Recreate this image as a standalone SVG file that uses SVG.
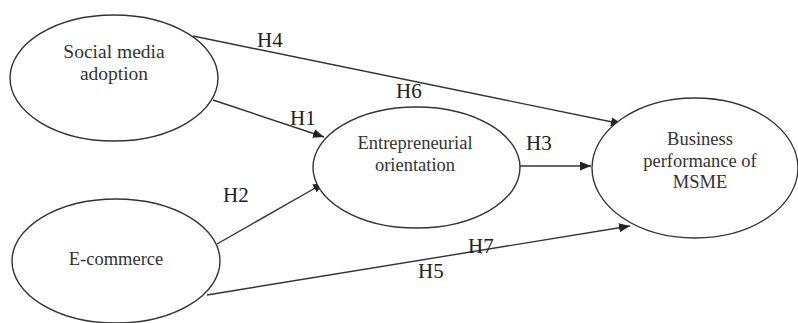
<svg xmlns="http://www.w3.org/2000/svg" width="798" height="323" viewBox="0 0 798 323">
<defs>
<marker id="arr" markerUnits="userSpaceOnUse" markerWidth="12" markerHeight="10" refX="11" refY="4.5" orient="auto">
<path d="M0,0 L11,4.5 L0,9 z" fill="#222"/>
</marker>
<style>
.node{fill:#fff;stroke:#333;stroke-width:1.4}
.lbl{font-family:"Liberation Serif","Times New Roman",serif;font-size:18.5px;fill:#333;text-anchor:middle}
.h{font-family:"Liberation Serif","Times New Roman",serif;font-size:21px;fill:#222}
.edge{stroke:#333;stroke-width:1.4;fill:none;marker-end:url(#arr)}
</style>
</defs>
<rect width="798" height="323" fill="#fff"/>
<g id="connectors">
<line class="edge" x1="193" y1="36" x2="622" y2="124"/>
<line class="edge" x1="213" y1="100" x2="324" y2="137"/>
<line class="edge" x1="217" y1="244" x2="324" y2="183"/>
<line class="edge" x1="519" y1="166" x2="591" y2="166"/>
<line class="edge" x1="207" y1="295" x2="630" y2="226"/>
<text class="h" x="257" y="47">H4</text>
<text class="h" x="290" y="125">H1</text>
<text class="h" x="396" y="98">H6</text>
<text class="h" x="526" y="150">H3</text>
<text class="h" x="223" y="202">H2</text>
<text class="h" x="468" y="253">H7</text>
<text class="h" x="418" y="278">H5</text>
</g>
<g id="social">
<ellipse class="node" cx="114" cy="78" rx="104" ry="63"/>
<text class="lbl" style="font-size:19.5px" x="114" y="58">Social media</text>
<text class="lbl" style="font-size:19.5px" x="114" y="80">adoption</text>
</g>
<g id="ecommerce">
<ellipse class="node" cx="116" cy="261" rx="104" ry="62"/>
<text class="lbl" x="116" y="265">E-commerce</text>
</g>
<g id="eo">
<ellipse class="node" cx="416.5" cy="167.5" rx="103.5" ry="60.5"/>
<text class="lbl" x="415" y="149">Entrepreneurial</text>
<text class="lbl" x="415" y="171">orientation</text>
</g>
<g id="bp">
<ellipse class="node" cx="695" cy="168" rx="103" ry="70"/>
<text class="lbl" x="700" y="145">Business</text>
<text class="lbl" x="700" y="167">performance of</text>
<text class="lbl" x="700" y="188">MSME</text>
</g>
</svg>
